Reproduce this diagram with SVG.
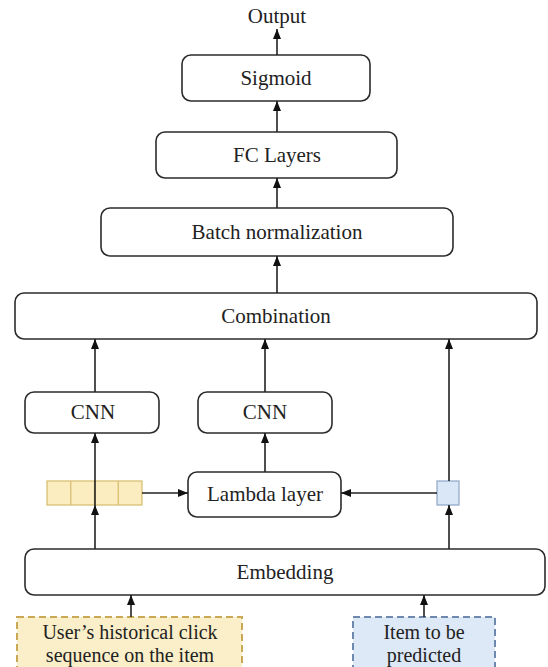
<svg xmlns="http://www.w3.org/2000/svg" width="548" height="667" viewBox="0 0 548 667">
<style>
.box{fill:#fff;stroke:#2b2b2b;stroke-width:1.6}
.t{font-family:"Liberation Serif","Times New Roman",serif;font-size:21px;fill:#222;text-anchor:middle}
.s{font-size:20px}
.c{stroke:#222;stroke-width:1.6;fill:none;marker-end:url(#ah)}
</style>
<defs>
<marker id="ah" viewBox="0 0 10 10" refX="10" refY="5" markerWidth="10" markerHeight="10" markerUnits="userSpaceOnUse" orient="auto">
<path d="M0,1 L10,5 L0,9 Z" fill="#111"/>
</marker>
</defs>
<rect width="548" height="667" fill="#fff"/>
<g id="output"><text class="t" x="277" y="23">Output</text></g>
<g id="sigmoid"><rect class="box" x="182" y="55" width="188" height="46" rx="9"/><text class="t" x="276" y="85">Sigmoid</text></g>
<g id="fc"><rect class="box" x="156" y="132" width="241" height="46" rx="9"/><text class="t" x="277" y="162">FC Layers</text></g>
<g id="batchnorm"><rect class="box" x="101" y="208" width="352" height="48" rx="9"/><text class="t" x="277" y="239">Batch normalization</text></g>
<g id="combination"><rect class="box" x="15" y="293" width="522" height="46" rx="9"/><text class="t" x="276" y="323">Combination</text></g>
<g id="cnn1"><rect class="box" x="25" y="392" width="134" height="41" rx="9"/><text class="t" x="93" y="419">CNN</text></g>
<g id="cnn2"><rect class="box" x="198" y="392" width="134" height="41" rx="9"/><text class="t" x="265" y="419">CNN</text></g>
<g id="lambda"><rect class="box" x="188" y="472" width="153" height="45" rx="9"/><text class="t" x="265" y="501">Lambda layer</text></g>
<g id="sequence">
<rect x="47" y="481" width="95" height="24" fill="#fbedc0" stroke="#d6bb6a" stroke-width="1.2"/>
<line x1="70.75" y1="481" x2="70.75" y2="505" stroke="#d6bb6a" stroke-width="1.2"/>
<line x1="94.5" y1="481" x2="94.5" y2="505" stroke="#d6bb6a" stroke-width="1.2"/>
<line x1="118.25" y1="481" x2="118.25" y2="505" stroke="#d6bb6a" stroke-width="1.2"/>
</g>
<g id="item"><rect x="437" y="481" width="22" height="24" fill="#dae7f6" stroke="#8ea6c8" stroke-width="1.2"/></g>
<g id="embedding"><rect class="box" x="25" y="549" width="520" height="46" rx="9"/><text class="t" x="285" y="579">Embedding</text></g>
<g id="input-seq"><rect x="17" y="617" width="225" height="56" fill="#faefc8" stroke="#c9a954" stroke-width="2" stroke-dasharray="7,4"/><text class="t s" x="130" y="639">User’s historical click</text><text class="t s" x="130" y="662">sequence on the item</text></g>
<g id="input-item"><rect x="353" y="617" width="142" height="56" fill="#dde9f6" stroke="#6f88ae" stroke-width="2" stroke-dasharray="7,4"/><text class="t s" x="424" y="639">Item to be</text><text class="t s" x="424" y="662">predicted</text></g>
<g id="connectors">
<line class="c" x1="277" y1="55" x2="277" y2="29"/>
<line class="c" x1="277" y1="132" x2="277" y2="101"/>
<line class="c" x1="277" y1="208" x2="277" y2="178"/>
<line class="c" x1="277" y1="293" x2="277" y2="256"/>
<line class="c" x1="95" y1="392" x2="95" y2="339"/>
<line class="c" x1="265" y1="392" x2="265" y2="339"/>
<line class="c" x1="449" y1="481" x2="449" y2="339"/>
<line class="c" x1="95" y1="481" x2="95" y2="433"/>
<line class="c" x1="265" y1="472" x2="265" y2="433"/>
<line class="c" x1="142" y1="493" x2="188" y2="493"/>
<line class="c" x1="437" y1="493" x2="341" y2="493"/>
<line x1="95" y1="505" x2="95" y2="481" stroke="#222" stroke-width="1.6"/>
<line class="c" x1="95" y1="549" x2="95" y2="505"/>
<line class="c" x1="449" y1="549" x2="449" y2="505"/>
<line class="c" x1="131" y1="617" x2="131" y2="595"/>
<line class="c" x1="424" y1="617" x2="424" y2="595"/>
</g>
</svg>
